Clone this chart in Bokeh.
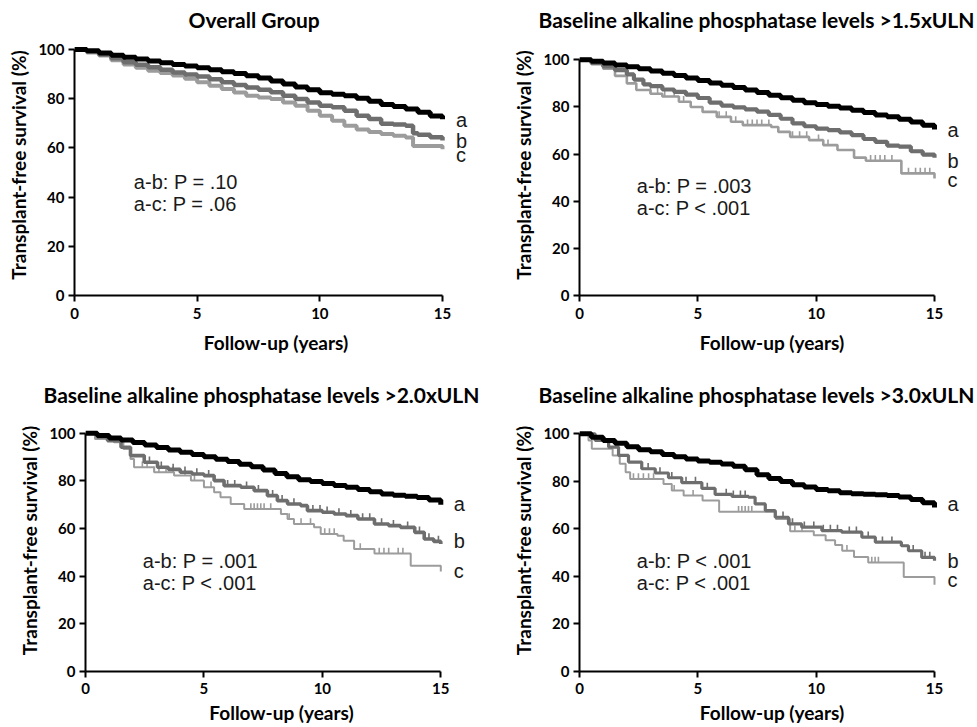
import numpy as np
from bokeh.plotting import figure
from bokeh.layouts import column, row
from bokeh.models import Range1d, Label, FixedTicker
from bokeh.embed import file_html
from bokeh.resources import INLINE

# ---------------------------------------------------------------- data
X_TICKS = [0, 5, 10, 15]
Y_TICKS = [0, 20, 40, 60, 80, 100]
X_LABEL = "Follow-up (years)"
Y_LABEL = "Transplant-free survival (%)"
GROUPS = ["a", "b", "c"]

TITLES = [
    "Overall Group",
    "Baseline alkaline phosphatase levels >1.5xULN",
    "Baseline alkaline phosphatase levels >2.0xULN",
    "Baseline alkaline phosphatase levels >3.0xULN",
]
PVALUES = [
    ["a-b: P = .10", "a-c: P = .06"],
    ["a-b: P = .003", "a-c: P < .001"],
    ["a-b: P = .001", "a-c: P < .001"],
    ["a-b: P < .001", "a-c: P < .001"],
]

# Kaplan-Meier step points (years, % surviving) -- Overall Group
p1_a_t = [0, 0.5, 1, 1.5, 2, 2.5, 3, 3.5, 4, 4.5, 5, 5.5, 6, 6.5, 7, 7.5, 8, 8.5, 9, 9.5,
          10, 10.5, 11, 11.5, 12, 12.5, 13, 13.5, 14, 14.5, 15]
p1_a_s = [100, 99.5, 98.6, 97.7, 96.9, 96.1, 95.3, 94.6, 93.9, 93.3, 92.6, 91.8, 91.0, 90.2,
          89.3, 88.4, 87.2, 86.0, 84.8, 83.6, 82.4, 81.8, 81.2, 80.2, 79.0, 77.6, 76.8, 75.8,
          74.5, 73.0, 71.6]
p1_b_t = [0, 0.5, 1, 1.5, 2, 2.5, 3, 3.5, 4, 4.5, 5, 5.5, 6, 6.5, 7, 7.5, 8, 8.5, 9, 9.5,
          10, 10.5, 11, 11.5, 12, 12.5, 13, 13.5, 13.8, 14, 14.5, 15]
p1_b_s = [100, 99.2, 98.0, 96.4, 94.8, 93.8, 92.8, 91.8, 90.7, 89.8, 89.0, 87.9, 86.7, 85.6,
          84.6, 83.6, 82.6, 81.2, 79.9, 78.5, 77.1, 76.5, 75.1, 73.1, 71.7, 69.8, 69.5, 69.0,
          66.0, 65.3, 64.3, 63.0]
p1_c_t = [0, 0.5, 1, 1.5, 2, 2.5, 3, 3.5, 4, 4.5, 5, 5.5, 6, 6.5, 7, 7.5, 8, 8.5, 9, 9.5,
          10, 10.5, 11, 11.5, 12, 12.5, 13, 13.5, 13.8, 15]
p1_c_s = [100, 98.8, 97.6, 95.6, 93.9, 92.6, 91.4, 90.4, 89.4, 88.1, 86.7, 85.3, 83.9, 82.5,
          81.2, 80.5, 79.9, 78.5, 77.1, 75.1, 73.1, 71.0, 69.0, 67.5, 66.5, 65.6, 64.9, 64.2,
          60.8, 59.5]

# >1.5xULN
p2_a_t = [0, 0.5, 1, 1.5, 2, 2.5, 3, 3.5, 4, 4.5, 5, 5.5, 6, 6.5, 7, 7.5, 8, 8.5, 9, 9.5,
          10, 10.5, 11, 11.5, 12, 12.5, 13, 13.5, 14, 14.5, 15]
p2_a_s = [100, 99.4, 98.6, 97.8, 97.0, 96.2, 95.3, 94.3, 93.3, 92.3, 91.2, 90.2, 89.2, 88.2,
          87.2, 86.1, 85.0, 83.9, 82.8, 81.8, 81.0, 80.3, 79.6, 78.6, 77.6, 76.6, 75.8, 74.8,
          73.6, 72.2, 70.4]
p2_b_t = [0, 0.5, 1, 1.5, 2, 2.3, 2.7, 3, 3.5, 4, 4.5, 5, 5.5, 6, 6.5, 7, 7.5, 8, 8.5, 9,
          9.5, 10, 10.5, 11, 11.5, 12, 12.5, 13, 13.5, 14, 14.5, 15]
p2_b_s = [100, 98.6, 97.2, 95.6, 93.8, 91.6, 89.6, 88.8, 87.4, 86.4, 85.2, 83.8, 81.8, 80.6,
          79.8, 79.0, 78.0, 76.6, 75.0, 73.0, 71.8, 70.8, 70.2, 69.2, 68.0, 66.4, 65.2, 63.6,
          63.2, 61.2, 59.8, 58.4]
p2_c_t = [0, 0.5, 1, 1.5, 2, 2.4, 3, 3.5, 4.2, 4.7, 5.2, 5.8, 6.4, 6.9, 8.1, 8.4, 8.9, 9.7,
          10.3, 10.9, 11.6, 12.1, 13.6, 15]
p2_c_s = [100, 98.2, 96.2, 93.2, 90.0, 87.2, 85.6, 84.4, 82.2, 80.0, 77.9, 75.8, 73.7, 72.3,
          71.5, 69.4, 67.3, 65.9, 63.8, 61.7, 58.5, 57.2, 51.8, 49.6]
p2_c_cens = [3.0, 3.3, 3.6, 4.0, 4.4, 5.9, 6.2, 6.6, 7.1, 7.3, 7.5, 7.7, 8.0, 9.0, 9.3, 9.6,
             10.1, 10.5, 12.3, 12.5, 12.7, 12.9, 13.2, 13.9, 14.2, 14.4, 14.6, 14.8]

# >2.0xULN
p3_a_t = [0, 0.5, 1, 1.5, 2, 2.5, 3, 3.5, 4, 4.5, 5, 5.5, 6, 6.5, 7, 7.5, 8, 8.5, 9, 9.5,
          10, 10.5, 11, 11.5, 12, 12.5, 13, 13.5, 14, 14.5, 15]
p3_a_s = [100, 99.0, 98.0, 97.1, 96.1, 95.0, 94.0, 93.0, 92.0, 91.1, 90.1, 89.1, 88.1, 87.0,
          85.9, 84.6, 83.1, 81.7, 80.5, 79.7, 78.9, 78.1, 77.3, 76.4, 75.4, 74.5, 74.0, 73.5,
          73.0, 72.0, 70.0]
p3_b_t = [0, 0.5, 0.93, 1.5, 1.9, 2.48, 3.04, 3.5, 4.0, 4.5, 5.0, 5.43, 5.85, 6.56, 7.12,
          7.68, 8.1, 8.53, 9.09, 9.37, 10.0, 10.5, 11.0, 11.5, 12.2, 12.8, 13.3, 13.9, 14.3,
          14.7, 15]
p3_b_s = [100, 98.4, 96.9, 94.1, 90.6, 87.8, 85.7, 84.8, 83.6, 82.9, 82.2, 80.1, 78.0, 77.3,
          75.9, 73.8, 71.7, 70.3, 69.6, 67.5, 66.8, 66.1, 65.4, 64.0, 61.9, 61.2, 60.5, 58.4,
          55.6, 54.6, 53.5]
p3_b_cens = [2.7, 3.2, 3.7, 4.2, 4.7, 5.2, 6.0, 6.3, 6.8, 7.3, 7.9, 8.3, 8.8, 9.6, 9.9, 10.2,
             10.7, 11.2, 11.7, 12.0, 12.5, 13.0, 13.6, 14.1, 14.5, 14.9]
p3_c_t = [0, 0.4, 1.2, 1.6, 1.9, 2.05, 2.9, 3.74, 4.45, 5.0, 5.43, 5.7, 6.13, 6.7, 8.25,
          8.53, 8.8, 9.65, 9.93, 10.64, 10.9, 11.34, 12.2, 13.73, 15]
p3_c_s = [100, 97.6, 96.2, 93.4, 89.2, 85.7, 83.6, 82.2, 80.1, 77.3, 75.2, 73.1, 70.3, 68.2,
          66.1, 64.0, 61.9, 60.5, 57.7, 57.0, 54.9, 51.4, 49.5, 44.4, 42.0]
p3_c_cens = [2.4, 2.6, 2.9, 3.1, 3.4, 3.7, 4.2, 4.6, 5.3, 6.98, 7.12, 7.26, 7.40, 7.54, 7.82,
             8.6, 9.1, 9.5, 10.1, 10.3, 10.5, 11.6, 12.4, 12.6, 12.8, 13.2, 13.4]

# >3.0xULN
p4_a_t = [0, 0.5, 1, 1.5, 2, 2.5, 3, 3.5, 4, 4.5, 5, 5.5, 6, 6.5, 7, 7.5, 8, 8.5, 9, 9.5,
          10, 10.5, 11, 11.5, 12, 12.5, 13, 13.5, 14, 14.5, 15]
p4_a_s = [100, 98.6, 97.2, 96.0, 94.6, 93.3, 92.4, 91.3, 90.3, 89.4, 88.6, 88.0, 87.3, 86.3,
          84.9, 82.8, 81.2, 79.9, 78.6, 77.6, 76.6, 76.0, 75.2, 74.8, 74.6, 74.4, 74.0, 73.4,
          72.4, 71.0, 69.0]
p4_b_t = [0, 0.66, 1.23, 1.65, 2.07, 2.63, 3.2, 3.76, 4.32, 5.17, 5.73, 6.44, 7.14, 7.42,
          7.85, 8.27, 8.83, 9.39, 10.24, 11.08, 11.93, 12.5, 13.6, 13.9, 14.46, 15]
p4_b_s = [100, 97.2, 94.4, 90.9, 88.1, 85.3, 83.5, 81.5, 79.5, 77.0, 74.5, 73.7, 73.3, 70.5,
          67.7, 64.9, 62.1, 60.7, 59.3, 58.6, 56.5, 54.4, 52.9, 50.8, 48.0, 46.6]
p4_b_cens = [2.9, 3.4, 3.9, 4.5, 4.9, 5.4, 6.2, 6.5, 6.8, 7.0, 8.6, 9.0, 9.5, 9.9, 10.3, 10.6,
             10.9, 11.4, 11.7, 12.2, 12.8, 13.2, 14.1, 14.6, 14.8]
p4_c_t = [0, 0.38, 0.52, 1.4, 1.7, 1.95, 2.14, 3.55, 3.9, 4.4, 5.2, 5.9, 8.3, 8.9, 9.9,
          10.4, 10.8, 11.1, 11.6, 12.2, 13.7, 15]
p4_c_s = [100, 97.2, 93.7, 90.9, 87.4, 83.8, 81.0, 78.9, 76.1, 74.0, 71.9, 67.2, 64.2, 59.0,
          57.3, 55.2, 53.2, 50.8, 48.2, 45.9, 39.8, 36.5]
p4_c_cens = [2.28, 2.49, 2.7, 2.92, 3.13, 4.0, 4.8, 6.72, 6.86, 7.0, 7.14, 7.28, 9.1, 9.4,
             11.3, 12.35, 12.49, 12.63]

# ---------------------------------------------------------------- style
COLORS = {"a": "#000000", "b": "#6e6e6e", "c": "#9c9c9c"}
BOLD_FONT = "Lato"
TEXT_FONT = "Liberation Sans"


def survival_at(t, s, when):
    idx = np.searchsorted(np.asarray(t), np.asarray(when), side="right") - 1
    return np.asarray(s)[idx]


def make_panel(fig_w, fig_h, borders, x_span_px, y_span_px, title, title_offset,
               x_standoffs, curves, widths, censors, pvals, letter_y):
    """borders: (left, right, top, bottom) in px; *_span_px: axis length 0..15 / 0..100."""
    left, right, top, bottom = borders
    frame_w = fig_w - left - right
    frame_h = fig_h - top - bottom
    x_end = 15.0 * frame_w / x_span_px
    y_end = 100.0 * frame_h / y_span_px
    px_per_pct = y_span_px / 100.0
    p = figure(width=fig_w, height=fig_h, output_backend="svg", toolbar_location=None,
               x_range=Range1d(0, x_end), y_range=Range1d(0, y_end),
               min_border_left=left, min_border_right=right,
               min_border_top=top, min_border_bottom=bottom)
    p.title.text = title
    p.title.align = "left"
    p.title.offset = title_offset
    p.title.standoff = 6
    p.title.text_font = BOLD_FONT
    p.title.text_font_style = "bold"
    p.title.text_font_size = "21px"
    p.title.text_color = "black"
    p.outline_line_color = None
    p.grid.visible = False

    p.xaxis.bounds = (0, 15)
    p.yaxis.bounds = (0, 100)
    p.xaxis.ticker = FixedTicker(ticks=X_TICKS)
    p.yaxis.ticker = FixedTicker(ticks=Y_TICKS)
    p.axis.axis_line_width = 2
    p.axis.axis_line_color = "black"
    p.axis.major_tick_line_width = 2
    p.axis.major_tick_line_color = "black"
    p.axis.major_tick_out = 6
    p.axis.major_tick_in = 0
    p.axis.minor_tick_line_color = None
    p.axis.major_label_text_font = BOLD_FONT
    p.axis.major_label_text_font_style = "bold"
    p.axis.major_label_text_font_size = "15px"
    p.axis.major_label_text_color = "black"
    p.axis.axis_label_text_font = BOLD_FONT
    p.axis.axis_label_text_font_style = "bold"
    p.axis.axis_label_text_font_size = "19px"
    p.axis.axis_label_text_color = "black"
    p.xaxis.axis_label = X_LABEL
    p.yaxis.axis_label = Y_LABEL
    p.xaxis.major_label_standoff = x_standoffs[0]
    p.xaxis.axis_label_standoff = x_standoffs[1]
    p.yaxis.major_label_standoff = 4
    p.yaxis.axis_label_standoff = 5

    # curves drawn back to front: c, b, a
    for g in ["c", "b", "a"]:
        t, s = curves[g]
        p.step(t, s, mode="after", line_color=COLORS[g], line_width=widths[g])
        if g in censors:
            ct = censors[g]
            cs = survival_at(t, s, ct)
            p.segment(x0=ct, y0=cs, x1=ct, y1=cs + 2.4, line_color=COLORS[g],
                      line_width=1.6)

    # texts sit 7 px higher than their nominal baseline value
    lift = 7.0 / px_per_pct
    for text, y in zip(pvals, [43.4, 34.3]):
        p.add_layout(Label(x=2.42, y=y + lift, text=text, text_align="left",
                           text_baseline="alphabetic", text_font=TEXT_FONT,
                           text_font_size="20px", text_color="#1a1a1a"))
    for g, y in zip(GROUPS, letter_y):
        p.add_layout(Label(x=15.55, y=y + lift, text=g, text_align="left",
                           text_baseline="alphabetic", text_font=TEXT_FONT,
                           text_font_size="20px", text_color="#1a1a1a"))
    return p


p1 = make_panel(490, 365, (74, 13, 34, 70), 368.0, 246.0, TITLES[0], 114, (6, 9),
                {"a": (p1_a_t, p1_a_s), "b": (p1_b_t, p1_b_s), "c": (p1_c_t, p1_c_s)},
                {"a": 5, "b": 4.5, "c": 4}, {}, PVALUES[0], [68.6, 60.1, 54.4])
p2 = make_panel(487, 365, (89, 13, 34, 70), 355.0, 235.7, TITLES[1], -41, (6, 9),
                {"a": (p2_a_t, p2_a_s), "b": (p2_b_t, p2_b_s), "c": (p2_c_t, p2_c_s)},
                {"a": 5, "b": 4.2, "c": 2.6}, {"c": p2_c_cens}, PVALUES[1],
                [67.3, 53.9, 46.2])
p3 = make_panel(490, 362, (85, 13, 44, 56), 355.3, 238.3, TITLES[2], -42, (5, 4),
                {"a": (p3_a_t, p3_a_s), "b": (p3_b_t, p3_b_s), "c": (p3_c_t, p3_c_s)},
                {"a": 5, "b": 3.6, "c": 2.0}, {"b": p3_b_cens, "c": p3_c_cens}, PVALUES[2],
                [67.2, 51.7, 39.2])
p4 = make_panel(487, 362, (89, 13, 44, 56), 355.0, 237.7, TITLES[3], -41, (5, 4),
                {"a": (p4_a_t, p4_a_s), "b": (p4_b_t, p4_b_s), "c": (p4_c_t, p4_c_s)},
                {"a": 5, "b": 3.2, "c": 2.0}, {"b": p4_b_cens, "c": p4_c_cens}, PVALUES[3],
                [67.4, 43.5, 35.7])

layout = column(row(p1, p2), row(p3, p4))
open("out.html", "w").write(file_html(layout, INLINE))
